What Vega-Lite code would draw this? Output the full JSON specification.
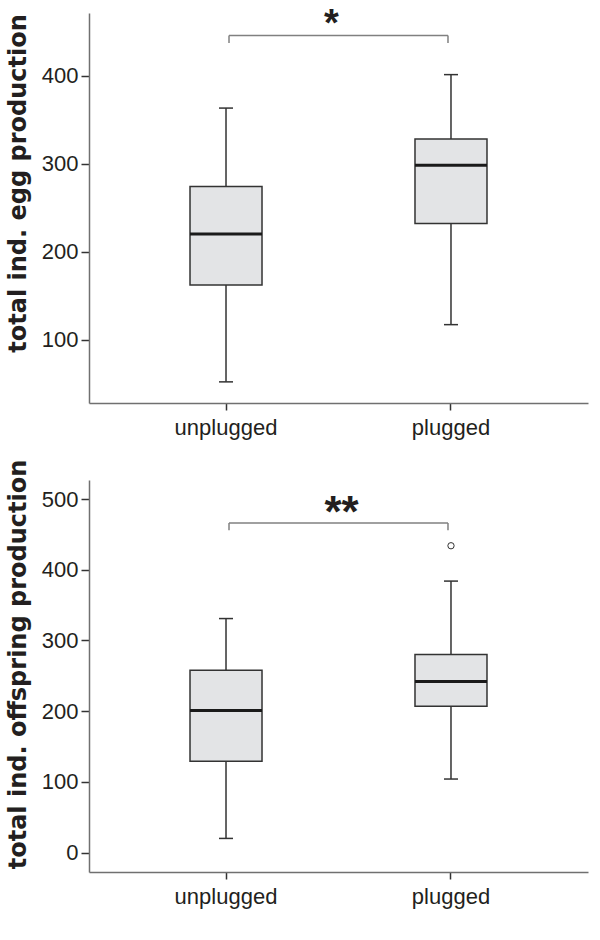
{
  "$schema": "https://vega.github.io/schema/vega-lite/v6.json",
  "padding": {"left": 5, "top": 6, "right": 12, "bottom": 5},
  "bounds": "flush",
  "spacing": 77,
  "config": {
    "view": {"stroke": null},
    "font": "Liberation Sans",
    "axis": {
      "domainColor": "#707070", "domainWidth": 1.5,
      "tickColor": "#333333", "tickWidth": 1.5, "tickSize": 8,
      "labelFont": "Liberation Sans", "labelFontSize": 22, "labelColor": "#231f20",
      "grid": false,
      "titleFont": "DejaVu Sans", "titleFontWeight": "bold", "titleFontSize": 24, "titleColor": "#231f20"
    }
  },
  "datasets": {
    "egg": [
      {"group": "unplugged", "min": 52, "q1": 162, "median": 220, "q3": 274, "max": 363},
      {"group": "plugged", "min": 117, "q1": 232, "median": 298, "q3": 328, "max": 401}
    ],
    "offspring": [
      {"group": "unplugged", "min": 20, "q1": 129, "median": 201, "q3": 258, "max": 331},
      {"group": "plugged", "min": 104, "q1": 207, "median": 242, "q3": 280, "max": 384}
    ],
    "outliers": [{"group": "plugged", "value": 434}],
    "sig_egg": [{"from": "unplugged", "to": "plugged", "y": 445.5, "drop": 437, "label": "*"}],
    "sig_off": [{"from": "unplugged", "to": "plugged", "y": 466, "drop": 456, "label": "**"}]
  },
  "vconcat": [
    {
      "width": 499,
      "height": 390,
      "layer": [
        {
          "data": {"name": "egg"},
          "mark": {"type": "rule", "color": "#333333", "strokeWidth": 1.5},
          "encoding": {
            "x": {"field": "group", "type": "nominal", "sort": ["unplugged", "plugged"],
                  "scale": {"type": "band", "domain": ["unplugged", "plugged"], "paddingInner": 0, "paddingOuter": 0.109},
                  "axis": {"title": null, "labelAngle": 0, "tickSize": 7, "labelPadding": 7, "domainColor": "#707070"}},
            "y": {"field": "min", "type": "quantitative",
                  "scale": {"domain": [28, 471], "nice": false, "zero": false},
                  "axis": {"values": [100, 200, 300, 400], "title": "total ind. egg production", "labelPadding": 3,
                           "titleX": -64, "titleY": 170, "titleAngle": -90, "titleAlign": "center", "titleBaseline": "alphabetic"}},
            "y2": {"field": "max"}
          }
        },
        {
          "data": {"name": "egg"},
          "mark": {"type": "bar", "size": 72, "fill": "#e3e4e6", "stroke": "#333333", "strokeWidth": 1.5},
          "encoding": {
            "x": {"field": "group", "type": "nominal", "sort": ["unplugged", "plugged"]},
            "y": {"field": "q1", "type": "quantitative"},
            "y2": {"field": "q3"}
          }
        },
        {
          "data": {"name": "egg"},
          "mark": {"type": "tick", "size": 72, "thickness": 3, "color": "#1a1a1a", "opacity": 1},
          "encoding": {
            "x": {"field": "group", "type": "nominal", "sort": ["unplugged", "plugged"]},
            "y": {"field": "median", "type": "quantitative"}
          }
        },
        {
          "data": {"name": "egg"},
          "mark": {"type": "tick", "size": 14, "thickness": 1.5, "color": "#333333", "opacity": 1},
          "encoding": {
            "x": {"field": "group", "type": "nominal", "sort": ["unplugged", "plugged"]},
            "y": {"field": "min", "type": "quantitative"}
          }
        },
        {
          "data": {"name": "egg"},
          "mark": {"type": "tick", "size": 14, "thickness": 1.5, "color": "#333333", "opacity": 1},
          "encoding": {
            "x": {"field": "group", "type": "nominal", "sort": ["unplugged", "plugged"]},
            "y": {"field": "max", "type": "quantitative"}
          }
        },
        {
          "data": {"name": "sig_egg"},
          "mark": {"type": "rule", "color": "#808080", "strokeWidth": 1.5, "xOffset": 3, "x2Offset": -3},
          "encoding": {
            "x": {"field": "from", "type": "nominal"},
            "x2": {"field": "to"},
            "y": {"field": "y", "type": "quantitative"}
          }
        },
        {
          "data": {"name": "sig_egg"},
          "mark": {"type": "rule", "color": "#808080", "strokeWidth": 1.5, "xOffset": 3},
          "encoding": {
            "x": {"field": "from", "type": "nominal"},
            "y": {"field": "y", "type": "quantitative"},
            "y2": {"field": "drop"}
          }
        },
        {
          "data": {"name": "sig_egg"},
          "mark": {"type": "rule", "color": "#808080", "strokeWidth": 1.5, "xOffset": -3},
          "encoding": {
            "x": {"field": "to", "type": "nominal"},
            "y": {"field": "y", "type": "quantitative"},
            "y2": {"field": "drop"}
          }
        },
        {
          "data": {"name": "sig_egg"},
          "mark": {"type": "text", "font": "Liberation Sans", "fontWeight": "bold", "fontSize": 38, "color": "#231f20", "align": "center", "baseline": "alphabetic", "dx": -7, "dy": 1},
          "encoding": {
            "x": {"field": "from", "type": "nominal", "bandPosition": 1},
            "y": {"field": "y", "type": "quantitative"},
            "text": {"field": "label"}
          }
        }
      ]
    },
    {
      "width": 499,
      "height": 392,
      "layer": [
        {
          "data": {"name": "offspring"},
          "mark": {"type": "rule", "color": "#333333", "strokeWidth": 1.5},
          "encoding": {
            "x": {"field": "group", "type": "nominal", "sort": ["unplugged", "plugged"],
                  "scale": {"type": "band", "domain": ["unplugged", "plugged"], "paddingInner": 0, "paddingOuter": 0.109},
                  "axis": {"title": null, "labelAngle": 0, "tickSize": 7, "labelPadding": 7}},
            "y": {"field": "min", "type": "quantitative",
                  "scale": {"domain": [-27.5, 527], "nice": false, "zero": false},
                  "axis": {"values": [0, 100, 200, 300, 400, 500], "title": "total ind. offspring production", "labelPadding": 3,
                           "titleX": -64, "titleY": 184, "titleAngle": -90, "titleAlign": "center", "titleBaseline": "alphabetic"}},
            "y2": {"field": "max"}
          }
        },
        {
          "data": {"name": "offspring"},
          "mark": {"type": "bar", "size": 72, "fill": "#e3e4e6", "stroke": "#333333", "strokeWidth": 1.5},
          "encoding": {
            "x": {"field": "group", "type": "nominal", "sort": ["unplugged", "plugged"]},
            "y": {"field": "q1", "type": "quantitative"},
            "y2": {"field": "q3"}
          }
        },
        {
          "data": {"name": "offspring"},
          "mark": {"type": "tick", "size": 72, "thickness": 3, "color": "#1a1a1a", "opacity": 1},
          "encoding": {
            "x": {"field": "group", "type": "nominal", "sort": ["unplugged", "plugged"]},
            "y": {"field": "median", "type": "quantitative"}
          }
        },
        {
          "data": {"name": "offspring"},
          "mark": {"type": "tick", "size": 14, "thickness": 1.5, "color": "#333333", "opacity": 1},
          "encoding": {
            "x": {"field": "group", "type": "nominal", "sort": ["unplugged", "plugged"]},
            "y": {"field": "min", "type": "quantitative"}
          }
        },
        {
          "data": {"name": "offspring"},
          "mark": {"type": "tick", "size": 14, "thickness": 1.5, "color": "#333333", "opacity": 1},
          "encoding": {
            "x": {"field": "group", "type": "nominal", "sort": ["unplugged", "plugged"]},
            "y": {"field": "max", "type": "quantitative"}
          }
        },
        {
          "data": {"name": "outliers"},
          "mark": {"type": "point", "shape": "circle", "filled": false, "size": 40, "stroke": "#333333", "strokeWidth": 1, "opacity": 1},
          "encoding": {
            "x": {"field": "group", "type": "nominal"},
            "y": {"field": "value", "type": "quantitative"}
          }
        },
        {
          "data": {"name": "sig_off"},
          "mark": {"type": "rule", "color": "#808080", "strokeWidth": 1.5, "xOffset": 3, "x2Offset": -3},
          "encoding": {
            "x": {"field": "from", "type": "nominal"},
            "x2": {"field": "to"},
            "y": {"field": "y", "type": "quantitative"}
          }
        },
        {
          "data": {"name": "sig_off"},
          "mark": {"type": "rule", "color": "#808080", "strokeWidth": 1.5, "xOffset": 3},
          "encoding": {
            "x": {"field": "from", "type": "nominal"},
            "y": {"field": "y", "type": "quantitative"},
            "y2": {"field": "drop"}
          }
        },
        {
          "data": {"name": "sig_off"},
          "mark": {"type": "rule", "color": "#808080", "strokeWidth": 1.5, "xOffset": -3},
          "encoding": {
            "x": {"field": "to", "type": "nominal"},
            "y": {"field": "y", "type": "quantitative"},
            "y2": {"field": "drop"}
          }
        },
        {
          "data": {"name": "sig_off"},
          "mark": {"type": "text", "font": "Liberation Sans", "fontWeight": "bold", "fontSize": 44, "color": "#231f20", "align": "center", "baseline": "alphabetic", "dx": 3, "dy": 4},
          "encoding": {
            "x": {"field": "from", "type": "nominal", "bandPosition": 1},
            "y": {"field": "y", "type": "quantitative"},
            "text": {"field": "label"}
          }
        }
      ]
    }
  ]
}
